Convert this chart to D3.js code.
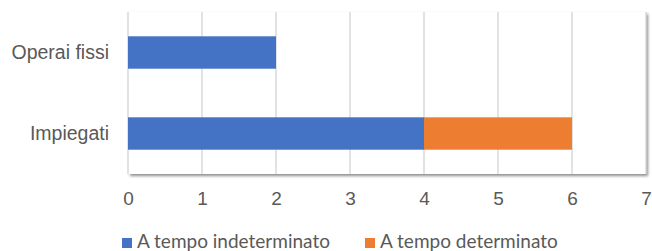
<!DOCTYPE html>
<html>
<head>
<meta charset="utf-8">
<script src="https://cdn.jsdelivr.net/npm/d3@7"></script>
<style>
  body { margin: 0; background: #fff; }
  text { fill: #595959; }
</style>
</head>
<body>
<div id="chart"></div>
<script>
// chart data
var categories = ["Operai fissi", "Impiegati"];
var indeterminato = [2, 4];
var determinato = [0, 2];
var seriesNames = ["A tempo indeterminato", "A tempo determinato"];
var seriesColors = ["#4472c4", "#ed7d31"];
var xTicks = [0, 1, 2, 3, 4, 5, 6, 7];

var svgWidth = 652;
var svgHeight = 251;
var margin = { top: 12, right: 6, bottom: 77, left: 128 };
var width = svgWidth - margin.left - margin.right;
var height = svgHeight - margin.top - margin.bottom;

var svg = d3.select("#chart")
  .append("svg")
  .attr("width", svgWidth)
  .attr("height", svgHeight);

// soft shadow under the plot area
var filter = svg.append("defs").append("filter")
  .attr("id", "shadow")
  .attr("x", "-5%").attr("y", "-5%")
  .attr("width", "110%").attr("height", "120%");
filter.append("feDropShadow")
  .attr("dx", 2).attr("dy", 2)
  .attr("stdDeviation", 1.6)
  .attr("flood-color", "#000")
  .attr("flood-opacity", 0.45);

var chartGroup = svg.append("g")
  .attr("transform", `translate(${margin.left}, ${margin.top})`);

var xScale = d3.scaleLinear().domain([0, 7]).range([0, width]);
var yScale = d3.scaleBand()
  .domain(categories)
  .range([0, height])
  .paddingInner(0.6)
  .paddingOuter(0.3);

chartGroup.append("rect")
  .attr("width", width)
  .attr("height", height)
  .attr("fill", "#fff")
  .attr("filter", "url(#shadow)");

// gridlines
chartGroup.append("g")
  .selectAll("line")
  .data(xTicks)
  .enter()
  .append("line")
  .attr("x1", d => xScale(d))
  .attr("x2", d => xScale(d))
  .attr("y1", 0)
  .attr("y2", height)
  .attr("stroke", "#d9d9d9")
  .attr("stroke-width", 1.5);

// stacked bars
var stackData = categories.map((c, i) => ({ cat: c, a: indeterminato[i], b: determinato[i] }));
var stacked = d3.stack().keys(["a", "b"])(stackData);

chartGroup.selectAll(".series")
  .data(stacked)
  .enter()
  .append("g")
  .attr("fill", (d, i) => seriesColors[i])
  .selectAll("rect")
  .data(d => d)
  .enter()
  .append("rect")
  .attr("x", d => xScale(d[0]))
  .attr("y", d => yScale(d.data.cat))
  .attr("width", d => xScale(d[1]) - xScale(d[0]))
  .attr("height", yScale.bandwidth());

// x axis labels
var xAxis = chartGroup.append("g")
  .attr("transform", `translate(0, ${height})`)
  .call(d3.axisBottom(xScale).tickValues(xTicks).tickFormat(d3.format("d")).tickSize(0).tickPadding(18));
xAxis.select(".domain").remove();
xAxis.attr("font-family", "Liberation Sans, Arial, sans-serif").attr("font-size", 19);
xAxis.selectAll("text").style("fill", "#595959");

// category labels
var yAxis = chartGroup.append("g")
  .call(d3.axisLeft(yScale).tickSize(0).tickPadding(19));
yAxis.select(".domain").remove();
yAxis.attr("font-family", "Liberation Sans, Arial, sans-serif").attr("font-size", 19.5);
yAxis.selectAll("text").style("fill", "#595959");

// legend
var legendX = [122, 365];
var legend = svg.append("g")
  .selectAll("g")
  .data(seriesNames)
  .enter()
  .append("g")
  .attr("transform", (d, i) => `translate(${legendX[i]}, 238)`);
legend.append("rect")
  .attr("width", 10)
  .attr("height", 10)
  .attr("fill", (d, i) => seriesColors[i]);
legend.append("text")
  .attr("x", 15)
  .attr("y", 10)
  .attr("font-family", "Lato, sans-serif")
  .attr("font-size", 19)
  .style("fill", "#595959")
  .text(d => d);
</script>
</body>
</html>
